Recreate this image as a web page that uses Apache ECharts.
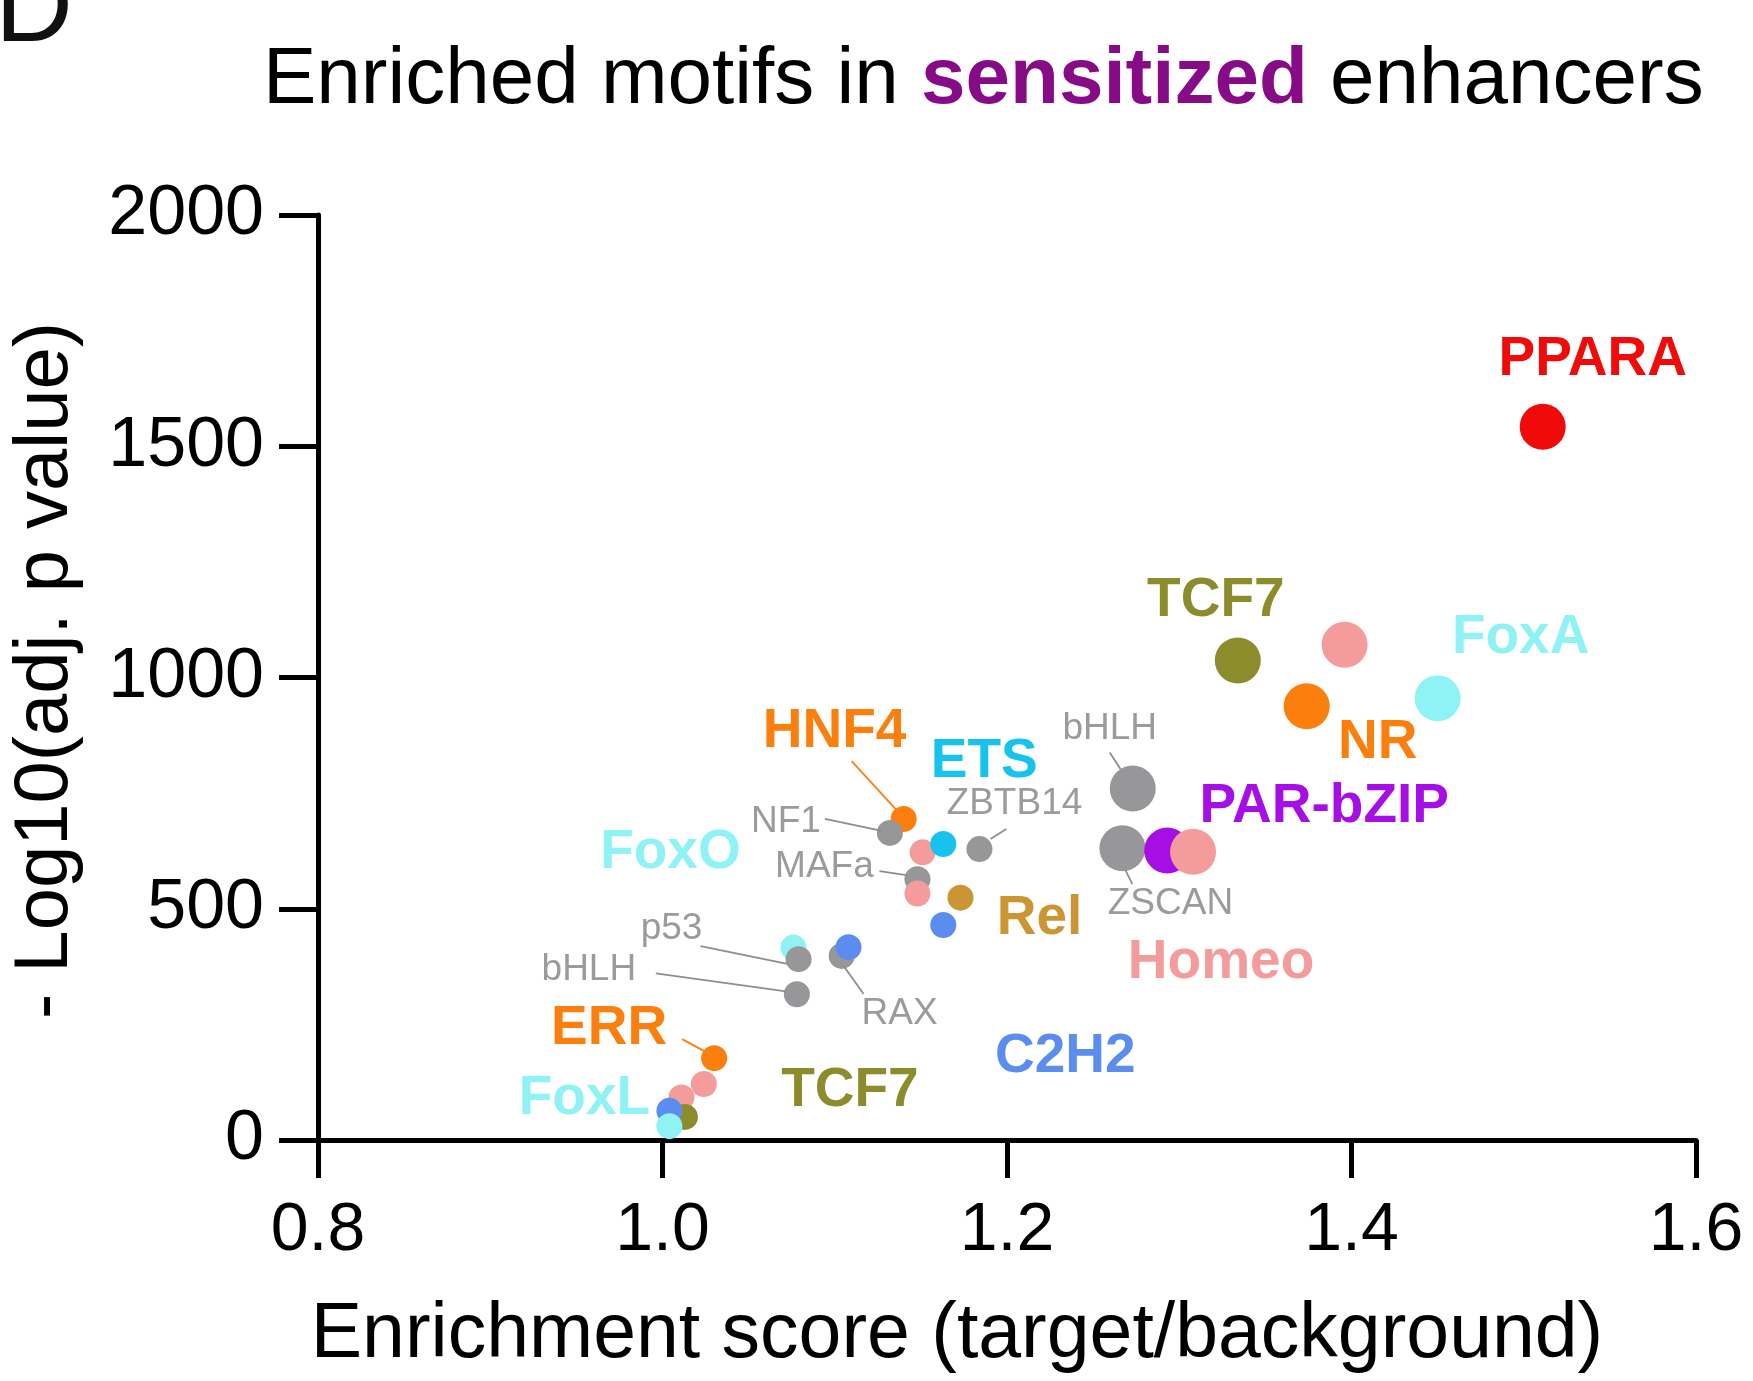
<!DOCTYPE html>
<html>
<head>
<meta charset="utf-8">
<script src="https://cdn.jsdelivr.net/npm/echarts@6/dist/echarts.min.js"></script>
<style>
  html, body { margin: 0; padding: 0; background: #ffffff; }
  #chart { width: 1753px; height: 1381px; }
</style>
</head>
<body>
<div id="chart"></div>
<script>
// ---- data: one entry per motif cluster (drawn in this order, later on top) ----
const motifs = [
  'PPARA', 'TCF7', 'Homeo', 'NR', 'FoxA', 'bHLH', 'ZSCAN', 'PAR-bZIP', 'Homeo',
  'HNF4', 'NF1', 'Homeo', 'ETS', 'ZBTB14', 'MAFa', 'Homeo', 'Rel', 'C2H2',
  'FoxO', 'p53', 'RAX', 'C2H2', 'bHLH',
  'ERR', 'Homeo', 'Homeo', 'TCF7', 'C2H2', 'FoxL'
];
const enrichment = [
  1.511, 1.334, 1.396, 1.374, 1.450, 1.273, 1.267, 1.293, 1.308,
  1.140, 1.132, 1.151, 1.163, 1.184, 1.148, 1.148, 1.173, 1.163,
  1.076, 1.079, 1.104, 1.108, 1.078,
  1.030, 1.024, 1.011, 1.013, 1.004, 1.004
];
const negLog10P = [
  1542, 1037, 1071, 938, 955, 760, 631, 626, 623,
  694, 664, 622, 640, 629, 564, 533, 524, 465,
  416, 391, 398, 417, 315,
  177, 121, 92, 50, 63, 30
];
const xTicks = [0.8, 1.0, 1.2, 1.4, 1.6];
const yTicks = [0, 500, 1000, 1500, 2000];

// ---- styling ----
const FONT = '"Liberation Sans", Arial, Helvetica, sans-serif';
const GRAY_DOT = '#97979a';
const GRAY_TEXT = '#9b9b9b';
const familyColor = {
  'PPARA': '#f00a0a', 'TCF7': '#8c8c2c', 'Homeo': '#f49c9c', 'NR': '#fb7f0c',
  'HNF4': '#fb7f0c', 'ERR': '#fb7f0c', 'FoxA': '#8ff3f6', 'FoxO': '#8ff3f6',
  'FoxL': '#8ff3f6', 'ETS': '#16c3ec', 'PAR-bZIP': '#a50ee4', 'Rel': '#cc9533',
  'C2H2': '#5b8def'
};
const colorOf = name => familyColor[name] || GRAY_DOT;
// the first nine clusters are drawn as large dots
const sizeClass = motifs.map((_, i) => (i < 9 ? 46 : 26));

// annotation layout: anchored on a point index, pixel offsets from that point,
// optional leader segment [x1, y1, x2, y2] (also offsets from the point)
const annotations = [
  { text: 'PPARA',    at: 0,  dx: 50,   dy: -67,  bold: true },
  { text: 'TCF7',     at: 1,  dx: -22,  dy: -60,  bold: true },
  { text: 'FoxA',     at: 4,  dx: 83,   dy: -60,  bold: true },
  { text: 'NR',       at: 3,  dx: 71,   dy: 37,   bold: true },
  { text: 'PAR-bZIP', at: 7,  dx: 157,  dy: -44,  bold: true },
  { text: 'Homeo',    at: 8,  dx: 28,   dy: 111,  bold: true },
  { text: 'ZSCAN',    at: 6,  dx: 48,   dy: 56,   bold: false, leader: [3, 22, 10, 36] },
  { text: 'bHLH',     at: 5,  dx: -23,  dy: -60,  bold: false, leader: [-12, -19, -23, -36] },
  { text: 'ETS',      at: 12, dx: 41,   dy: -82,  bold: true },
  { text: 'ZBTB14',   at: 13, dx: 35,   dy: -45,  bold: false, leader: [11, -10, 27, -20] },
  { text: 'HNF4',     at: 9,  dx: -69,  dy: -87,  bold: true,  leader: [-8, -10, -52, -58] },
  { text: 'NF1',      at: 10, dx: -104, dy: -11,  bold: false, leader: [-8, -2, -65, -14] },
  { text: 'FoxO',     at: 18, dx: -123, dy: -95,  bold: true },
  { text: 'MAFa',     at: 14, dx: -93,  dy: -12,  bold: false, leader: [-11, -4, -38, -8] },
  { text: 'Rel',      at: 16, dx: 79,   dy: 21,   bold: true },
  { text: 'p53',      at: 19, dx: -127, dy: -30,  bold: false, leader: [-10, 5, -98, -13] },
  { text: 'bHLH',     at: 22, dx: -208, dy: -25,  bold: false, leader: [-11, -3, -141, -21] },
  { text: 'RAX',      at: 20, dx: 58,   dy: 58,   bold: false, leader: [2, 10, 22, 38] },
  { text: 'ERR',      at: 23, dx: -105, dy: -29,  bold: true,  leader: [-10, -7, -32, -19] },
  { text: 'FoxL',     at: 28, dx: -85,  dy: -27,  bold: true },
  { text: 'TCF7',     at: 26, dx: 165,  dy: -26,  bold: true },
  { text: 'C2H2',     at: 17, dx: 122,  dy: 132,  bold: true }
];

const chart = echarts.init(document.getElementById('chart'), null, { renderer: 'canvas' });

const points = motifs.map((m, i) => ({
  name: m,
  value: [enrichment[i], negLog10P[i]],
  symbolSize: sizeClass[i],
  itemStyle: { color: colorOf(m), opacity: 1 }
}));

const option = {
  backgroundColor: '#ffffff',
  animation: false,
  title: {
    text: '{n|Enriched motifs in }{s|sensitized}{n| enhancers}',
    left: 258,
    top: 36,
    textStyle: {
      rich: {
        n: { fontFamily: FONT, fontSize: 80, fontWeight: 'normal', color: '#000000' },
        s: { fontFamily: FONT, fontSize: 80, fontWeight: 'bold', color: '#870b87' }
      }
    }
  },
  grid: { left: 310, top: 215, width: 1386, height: 925, containLabel: false },
  xAxis: {
    type: 'value',
    min: xTicks[0],
    max: xTicks[xTicks.length - 1],
    interval: 0.2,
    axisLine: { show: true, onZero: false, lineStyle: { color: '#000000', width: 5 } },
    axisTick: { show: true, inside: false, length: 38, lineStyle: { color: '#000000', width: 5 } },
    axisLabel: {
      fontFamily: FONT, fontSize: 68, color: '#000000', margin: 57,
      formatter: v => v.toFixed(1)
    },
    splitLine: { show: false }
  },
  yAxis: {
    type: 'value',
    min: yTicks[0],
    max: yTicks[yTicks.length - 1],
    interval: 500,
    name: '- Log10(adj. p value)',
    nameLocation: 'middle',
    nameRotate: 90,
    nameGap: 234,
    nameTextStyle: { fontFamily: FONT, fontSize: 76, color: '#000000', padding: [0, 0, 0, 14] },
    axisLine: { show: true, onZero: false, lineStyle: { color: '#000000', width: 5 } },
    axisTick: { show: true, inside: false, length: 39, lineStyle: { color: '#000000', width: 5 } },
    axisLabel: {
      fontFamily: FONT, fontSize: 70, color: '#000000', margin: 54,
      formatter: v => String(v)
    },
    splitLine: { show: false }
  },
  graphic: [
    {
      type: 'text',
      left: -5,
      top: -43,
      style: { text: 'D', font: '108px ' + FONT, fill: '#111111' }
    },
    {
      type: 'text',
      x: 957,
      y: 1336,
      style: {
        text: 'Enrichment score (target/background)',
        font: '77px ' + FONT,
        fill: '#000000',
        align: 'center',
        verticalAlign: 'middle'
      }
    }
  ],
  series: [
    {
      type: 'scatter',
      symbol: 'circle',
      data: points,
      z: 3,
      emphasis: { disabled: true }
    },
    {
      type: 'custom',
      z: 5,
      silent: true,
      data: annotations.map(a => [enrichment[a.at], negLog10P[a.at]]),
      renderItem: (params, api) => {
        const a = annotations[params.dataIndex];
        const p = api.coord([enrichment[a.at], negLog10P[a.at]]);
        const color = a.bold ? colorOf(motifs[a.at]) : GRAY_TEXT;
        const children = [];
        if (a.leader) {
          children.push({
            type: 'line',
            shape: {
              x1: p[0] + a.leader[0], y1: p[1] + a.leader[1],
              x2: p[0] + a.leader[2], y2: p[1] + a.leader[3]
            },
            style: { stroke: a.bold ? color : '#8e8e8e', lineWidth: 1.8 }
          });
        }
        children.push({
          type: 'text',
          style: {
            text: a.text,
            x: p[0] + a.dx,
            y: p[1] + a.dy,
            align: 'center',
            verticalAlign: 'middle',
            fill: color,
            font: (a.bold ? 'bold 55px ' : '37px ') + FONT
          }
        });
        return { type: 'group', children };
      }
    }
  ]
};

chart.setOption(option);
</script>
</body>
</html>
